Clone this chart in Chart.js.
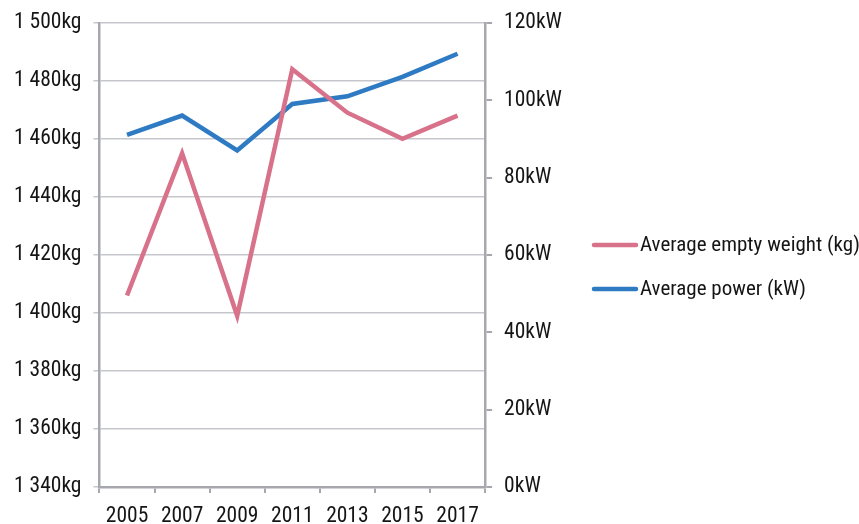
<!DOCTYPE html>
<html>
<head>
<meta charset="utf-8">
<script src="https://cdn.jsdelivr.net/npm/chart.js@4/dist/chart.umd.min.js"></script>
<style>
  html, body { margin: 0; padding: 0; background: #fff; }
  #wrap { width: 859px; height: 524px; }
</style>
</head>
<body>
<div id="wrap"><canvas id="carChart"></canvas></div>
<script>
// data
const years = ['2005', '2007', '2009', '2011', '2013', '2015', '2017'];
const emptyWeight = [1406, 1455, 1399, 1484, 1469, 1460, 1468];
const avgPower = [91, 96, 87, 99, 101, 106, 112];
const weightTicks = [1340, 1500, 20];   // min, max, step
const powerTicks = [0, 120, 20];

const fontFam = "'Roboto Condensed', Roboto, sans-serif";
const pink = '#d8728b';
const blue = '#2f7bc3';
const axisGrey = '#a6a8ae';
const textCol = '#151515';

// "1 500kg" style labels
function fmtKg(v) {
    const s = String(v);
    return (s.length > 3 ? s.slice(0, s.length - 3) + ' ' + s.slice(-3) : s) + 'kg';
}

// legend drawn on the right side, line sample + label
const sideLegend = {
    id: 'sideLegend',
    afterDraw(chart) {
        const ctx = chart.ctx;
        const x0 = 592, lineW = 46, rowY = [245, 289];
        ctx.save();
        ctx.font = '21px ' + fontFam;
        ctx.textBaseline = 'middle';
        ctx.lineCap = 'round';
        chart.data.datasets.forEach((ds, i) => {
            ctx.strokeStyle = ds.borderColor;
            ctx.lineWidth = 4.5;
            ctx.beginPath();
            ctx.moveTo(x0 + 2, rowY[i]);
            ctx.lineTo(x0 + lineW - 2, rowY[i]);
            ctx.stroke();
            ctx.fillStyle = textCol;
            ctx.fillText(ds.label, x0 + lineW + 2, rowY[i] + 1);
        });
        ctx.restore();
    }
};

new Chart(document.getElementById('carChart'), {
    type: 'line',
    data: {
        labels: years,
        datasets: [{
            label: 'Average empty weight (kg)',
            data: emptyWeight,
            borderColor: pink,
            backgroundColor: pink,
            borderWidth: 4.5,
            pointRadius: 0,
            tension: 0,
            yAxisID: 'y'
        }, {
            label: 'Average power (kW)',
            data: avgPower,
            borderColor: blue,
            backgroundColor: blue,
            borderWidth: 4.5,
            pointRadius: 0,
            tension: 0,
            yAxisID: 'y1'
        }]
    },
    options: {
        responsive: true,
        maintainAspectRatio: false,
        animation: false,
        layout: { padding: { top: 9, left: 2, right: 285, bottom: -16 } },
        plugins: {
            tooltip: { enabled: false },
            legend: { display: false }
        },
        scales: {
            x: {
                offset: true,
                grid: { display: true, offset: true, drawOnChartArea: false, drawTicks: true, tickLength: 6, color: axisGrey, lineWidth: 2 },
                border: { color: axisGrey, width: 2.5 },
                ticks: { color: textCol, padding: 10.6, maxRotation: 0, autoSkip: false, font: { family: fontFam, size: 21.5 } }
            },
            y: {
                position: 'left',
                min: weightTicks[0],
                max: weightTicks[1],
                grid: { color: '#c6c7cd', lineWidth: 1.5, tickLength: 6 },
                border: { color: axisGrey, width: 2.5 },
                ticks: {
                    stepSize: weightTicks[2],
                    color: textCol,
                    padding: 12,
                    font: { family: fontFam, size: 21.5, lineHeight: 1 },
                    callback: v => fmtKg(v)
                }
            },
            y1: {
                position: 'right',
                min: powerTicks[0],
                max: powerTicks[1],
                grid: { drawOnChartArea: false, color: axisGrey, lineWidth: 2, tickLength: 7 },
                border: { color: axisGrey, width: 2.5 },
                ticks: {
                    stepSize: powerTicks[2],
                    color: textCol,
                    padding: 12,
                    font: { family: fontFam, size: 21.5, lineHeight: 1 },
                    callback: v => v + 'kW'
                }
            }
        }
    },
    plugins: [sideLegend]
});
</script>
</body>
</html>
